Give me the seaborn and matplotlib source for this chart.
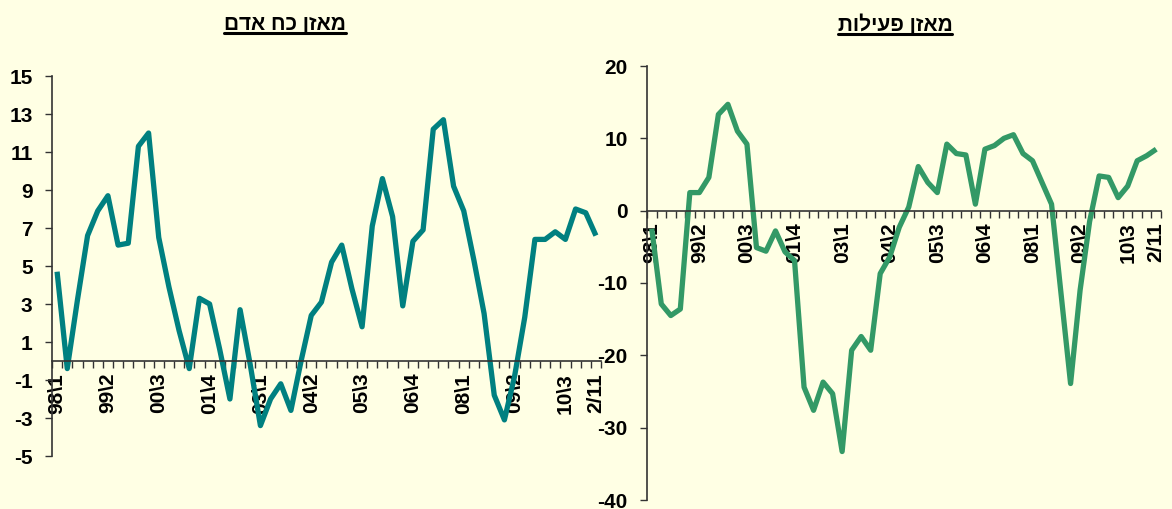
import numpy as np
import matplotlib
matplotlib.use("Agg")
import matplotlib.pyplot as plt
import seaborn as sns
from matplotlib.lines import Line2D


# =========================
# Data (quarterly, 98Q1 .. 11Q2)
# =========================

manpower = [
    4.7, -0.4, 3.2, 6.6, 7.9, 8.7, 6.1, 6.2, 11.3, 12.0,
    6.5, 3.9, 1.6, -0.4, 3.3, 3.0, 0.6, -2.0, 2.7, -0.2,
    -3.4, -2.0, -1.2, -2.6, 0.0, 2.4, 3.1, 5.2, 6.1, 3.8,
    1.8, 7.1, 9.6, 7.6, 2.9, 6.3, 6.9, 12.2, 12.7, 9.2,
    7.9, 5.3, 2.5, -1.8, -3.1, -0.8, 2.3, 6.4, 6.4, 6.8,
    6.4, 8.0, 7.8, 6.6,
]

activity = [
    -2.5, -12.9, -14.5, -13.6, 2.5, 2.5, 4.6, 13.3, 14.7, 11.0,
    9.2, -5.1, -5.6, -2.8, -5.7, -6.9, -24.4, -27.6, -23.7, -25.3,
    -33.3, -19.3, -17.4, -19.3, -8.7, -6.4, -2.3, 0.5, 6.1, 3.9,
    2.5, 9.2, 7.9, 7.7, 0.9, 8.5, 9.0, 10.0, 10.5, 7.9,
    6.9, 3.9, 0.9, -11.5, -23.9, -11.0, -1.5, 4.8, 4.6, 1.8,
    3.4, 6.9, 7.6, 8.5,
]

tick_labels = [
    "98\\1", "99\\2", "00\\3", "01\\4", "03\\1", "04\\2",
    "05\\3", "06\\4", "08\\1", "09\\2", "10\\3", "2/11",
]
tick_idx = list(range(0, 51, 5)) + [53]

title_manpower = "מאזן כח אדם"
title_activity = "מאזן פעילות"


# =========================
# Style
# =========================

sns.set_style("white")
plt.rcParams["font.family"] = ["Liberation Sans", "DejaVu Sans"]
plt.rcParams["font.weight"] = "bold"
plt.rcParams["axes.unicode_minus"] = False
plt.rcParams["text.color"] = "black"
plt.rcParams["xtick.color"] = "black"
plt.rcParams["ytick.color"] = "black"

BG = "#FFFFE4"
W, H = 1172, 509

fig = plt.figure(figsize=(W / 100, H / 100), dpi=100, facecolor=BG)


def px_axes(x0, x1, ytop, ybot):
    return fig.add_axes(
        [x0 / W, 1 - ybot / H, (x1 - x0) / W, (ybot - ytop) / H]
    )


def draw_panel(ax, values, color, ylim, ystep):
    ax.set_facecolor(BG)
    x = np.arange(len(values))
    sns.lineplot(
        x=x, y=values, ax=ax, color=color, linewidth=3.8,
        solid_joinstyle="round", solid_capstyle="butt",
    )
    ax.set_xlim(-0.5, len(values) - 0.5)
    ax.set_ylim(*ylim)
    ax.set_yticks(np.arange(ylim[0], ylim[1] + 0.1, ystep))
    ax.set_xticks(tick_idx)
    ax.set_xticklabels(tick_labels)
    ax.set_xticks(np.arange(-0.5, len(values), 1), minor=True)
    ax.tick_params(axis="x", which="major", length=0, pad=8.5,
                   labelsize=15, labelrotation=90, bottom=True)
    ax.tick_params(axis="x", which="minor", length=5, width=1,
                   color="#333333", bottom=True, direction="out")
    ax.tick_params(axis="y", length=5, width=1, color="#333333",
                   labelcolor="black", left=True, direction="out",
                   labelsize=15, pad=9)
    for lab in ax.get_xticklabels():
        lab.set_fontweight("bold")
        lab.set_va("top")
        lab.set_ha("center")
    for lab in ax.get_yticklabels():
        lab.set_fontweight("bold")
    ax.spines["top"].set_visible(False)
    ax.spines["right"].set_visible(False)
    ax.spines["bottom"].set_position(("data", 0))
    for s in ("left", "bottom"):
        ax.spines[s].set_color("#333333")
        ax.spines[s].set_linewidth(1.2)
    ax.set_xlabel("")
    ax.set_ylabel("")


ax1 = px_axes(52, 601, 76, 456)
draw_panel(ax1, manpower, "#008080", (-5, 15), 2)

ax2 = px_axes(647, 1161, 66, 500)
draw_panel(ax2, activity, "#339966", (-40, 20), 10)


# =========================
# Underlined titles
# =========================

titles = []
for text, cx in [(title_manpower, 285), (title_activity, 895)]:
    t = fig.text(cx / W, 1 - 24 / H, text[::-1], ha="center",
                 va="center", fontsize=15, fontweight="bold")
    titles.append(t)

fig.canvas.draw()
renderer = fig.canvas.get_renderer()
for t in titles:
    bb = t.get_window_extent(renderer)
    y = bb.y0 + 1
    fig.add_artist(Line2D([bb.x0 / W, bb.x1 / W], [y / H, y / H],
                          transform=fig.transFigure, color="black",
                          linewidth=2.2))

fig.savefig("out.png", dpi=100, facecolor=BG)
